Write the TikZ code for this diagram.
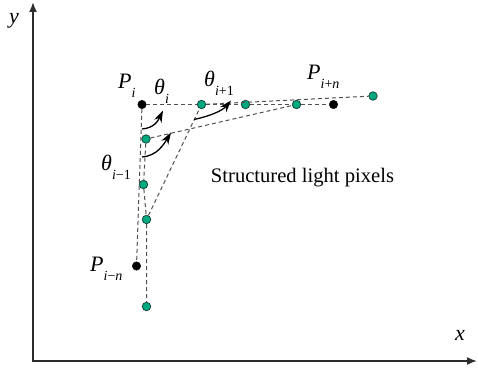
\documentclass[tikz,border=0pt]{standalone}
\usepackage{fontspec}
\setmainfont{Liberation Serif}
\usetikzlibrary{arrows.meta}
\newcommand{\symsub}[3]{\textit{#1}\kern#3\raisebox{-0.42em}{\fontsize{14}{16}\selectfont #2}}
\tikzset{
  blackdot/.style={circle,fill=black,draw=black,inner sep=0pt,minimum size=8.5pt},
  greendot/.style={circle,fill={rgb,255:red,0;green,168;blue,128},draw={rgb,255:red,20;green,60;blue,50},line width=0.7pt,inner sep=0pt,minimum size=8.5pt},
  dline/.style={draw={rgb,255:red,80;green,80;blue,80},dash pattern=on 4pt off 3pt,line width=1pt},
  axis/.style={draw={rgb,255:red,45;green,45;blue,45},line width=1.8pt,-{Latex[length=10pt,width=8pt]}},
  anglearrow/.style={draw=black,line width=1.3pt,-{Stealth[length=12pt,width=8pt]}},
  lab/.style={font=\fontsize{22}{26}\selectfont,inner sep=0pt},
  plain/.style={font=\fontsize{20.6}{24}\selectfont,inner sep=0pt}
}
\begin{document}
\begin{tikzpicture}[x=1pt,y=-1pt]
\useasboundingbox (0,0) rectangle (478,369);
% axes
\coordinate (o) at (33,361);
\coordinate (ytip) at (33,2);
\coordinate (xtip) at (477,361);
\draw[axis] (o) -- (ytip);
\draw[axis] ([xshift=-0.9pt]o) -- (xtip);
\node[lab] (ylab) at (14,21) {\textit{y}};
\node[lab] (xlab) at (460,335) {\textit{x}};
% points
\node[blackdot] (pi) at (142,104.5) {};
\node[greendot] (h1) at (201.5,104.5) {};
\node[greendot] (h2) at (245.5,104.5) {};
\node[greendot] (h3) at (296.5,104.5) {};
\node[blackdot] (pin) at (333.5,104.5) {};
\node[greendot] (h4) at (373,96) {};
\node[greendot] (v1) at (146,139) {};
\node[greendot] (v2) at (143.5,184.5) {};
\node[greendot] (v3) at (146.5,219.5) {};
\node[blackdot] (pmn) at (136.5,266) {};
\node[greendot] (v4) at (146.5,306.5) {};
% dashed lines
\draw[dline] (pi) -- (h1) -- (h2) -- (h3) -- (pin);
\draw[dline] (h1) -- (h4);
\draw[dline] (v1) -- (h3);
\draw[dline] (v3) -- (h1);
\draw[dline] (pi) -- (pmn);
\draw[dline] (v1) -- (v2) -- (v3) -- (v4);
% angle arrows
\coordinate (a1s) at (142,129);
\coordinate (a1e) at (163,110.5);
\draw[anglearrow] (a1s) .. controls (154,128) and (158,121) .. (a1e);
\coordinate (a2s) at (142,157);
\coordinate (a2e) at (171,132.5);
\draw[anglearrow] (a2s) .. controls (157,156) and (164,144) .. (a2e);
\coordinate (a3s) at (194,119.5);
\coordinate (a3e) at (231,100.5);
\draw[anglearrow] (a3s) .. controls (210,116) and (222,111) .. (a3e);
% labels
\node[lab,anchor=base west] (lpi) at (118,88) {\symsub{P}{\textit{i}}{0em}};
\node[lab,anchor=base west] (lti) at (154,94) {\symsub{θ}{\textit{i}}{0em}};
\node[lab,anchor=base west] (lti1) at (204,86) {\symsub{θ}{\textit{i}+1}{0em}};
\node[lab,anchor=base west] (lpin) at (307,79) {\symsub{P}{\textit{i}+\textit{n}}{0em}};
\node[lab,anchor=base west] (ltim) at (101,170) {\symsub{θ}{\textit{i}−1}{0em}};
\node[lab,anchor=base west] (lpmn) at (90,271) {\symsub{P}{\textit{i}−\textit{n}}{0em}};
\node[plain] (txt) at (302.5,178) {Structured light pixels};
\end{tikzpicture}
\end{document}
